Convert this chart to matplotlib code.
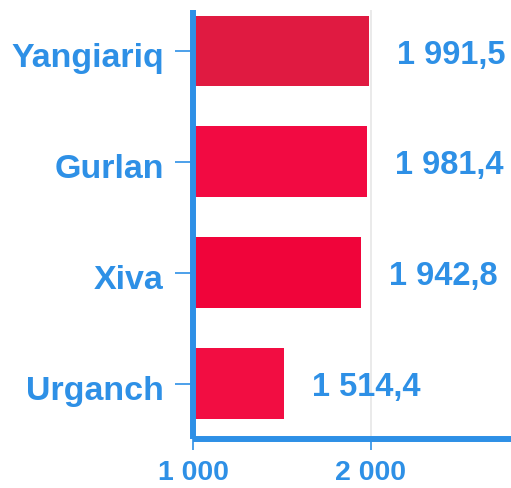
import matplotlib
matplotlib.use("Agg")
import matplotlib.pyplot as plt
from matplotlib.transforms import ScaledTranslation

categories = ["Yangiariq", "Gurlan", "Xiva", "Urganch"]
values = [1991.5, 1981.4, 1942.8, 1514.4]
colors = ["#E01A41", "#F20A42", "#F0043A", "#F20D42"]
xticks = [1000, 2000]
xtick_labels = ["1 000", "2 000"]

BLUE = "#2E90E6"
plt.rcParams['font.family'] = ['Liberation Sans', 'DejaVu Sans']

fig = plt.figure(figsize=(5.11, 4.88), dpi=100)
ax = fig.add_axes([193/511, 49/488, 320/511, 429/488])

y = list(range(len(categories)))
base = 1000
ax.barh(y, [v - base for v in values], left=base, height=0.64, color=colors, zorder=2)

ax.set_xlim(1000, 2800)
ax.set_ylim(3.5, -0.37)

ax.set_yticks(y)
ax.set_yticklabels(categories)
ax.set_xticks(xticks)
ax.set_xticklabels(xtick_labels)

for s in ["top", "right"]:
    ax.spines[s].set_visible(False)
for s in ["left", "bottom"]:
    ax.spines[s].set_color(BLUE)
    ax.spines[s].set_linewidth(4.3)
    ax.spines[s].set_zorder(3)
    ax.spines[s].set_capstyle("butt")

ax.tick_params(axis="y", length=13, width=1.2, color=BLUE, pad=8,
               labelsize=24.5, labelcolor=BLUE)
ax.tick_params(axis="x", length=8, width=1.2, color=BLUE, pad=7,
               labelsize=20.5, labelcolor=BLUE)
shift = ScaledTranslation(0, -4/100, fig.dpi_scale_trans)
for lab in ax.get_yticklabels():
    lab.set_fontweight("bold")
    lab.set_transform(lab.get_transform() + shift)
for lab in ax.get_xticklabels():
    lab.set_fontweight("bold")

ax.grid(axis="x", color="#e6e6e6", linewidth=1.2, zorder=0)
ax.set_axisbelow(True)

def fmt(v):
    s = f"{v:,.1f}"
    return s.replace(",", " ").replace(".", ",")

for yi, v in zip(y, values):
    ax.annotate(fmt(v), xy=(v, yi), xytext=(28, -4), textcoords="offset pixels",
                ha="left", va="center", fontsize=23.5, fontweight="bold",
                color=BLUE, annotation_clip=False)

fig.savefig("out.png", dpi=100)
